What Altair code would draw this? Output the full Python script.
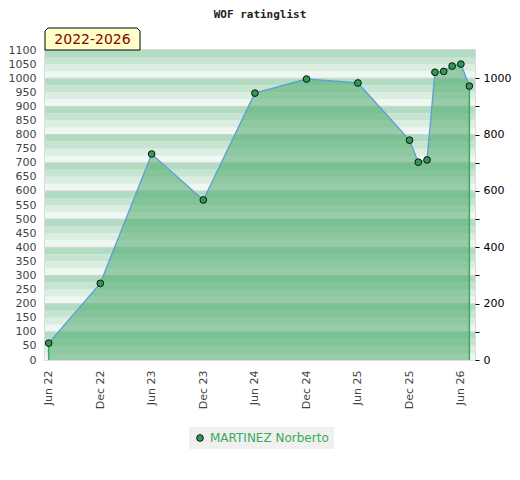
import altair as alt
import pandas as pd

# ---- data ----
dates = ["2022-06-01", "2022-12-01", "2023-06-01", "2023-12-01", "2024-06-01",
         "2024-12-01", "2025-06-01", "2025-12-01", "2026-01-01", "2026-02-01",
         "2026-03-01", "2026-04-01", "2026-05-01", "2026-06-01", "2026-07-01"]
ratings = [60, 272, 731, 568, 947, 997, 983, 780, 702, 710, 1021, 1024, 1043, 1050, 972]
player = "MARTINEZ Norberto"
title_text = "WOF ratinglist"
period_text = "2022-2026"
tick_dates = [(2022, 6), (2022, 12), (2023, 6), (2023, 12), (2024, 6),
              (2024, 12), (2025, 6), (2025, 12), (2026, 6)]

df = pd.DataFrame({"date": dates, "rating": ratings, "player": player})
df["edge"] = [i == 0 or i == len(df) - 1 for i in range(len(df))]

W, H = 430, 310
YMAX = 1100

# background stripes (decoration)
stripe_cols = ["#eff7f1", "#dcede2", "#c6e5d1", "#b1dcc1"]
stripes = pd.DataFrame({
    "lo": [v for v in range(0, YMAX, 25)],
    "hi": [v + 25 for v in range(0, YMAX, 25)],
    "c": [stripe_cols[(v % 100) // 25] for v in range(0, YMAX, 25)],
})
grid = pd.DataFrame({"v": list(range(100, YMAX, 100))})

yscale = alt.Scale(domain=[0, YMAX], nice=False)
xscale = alt.Scale(type="utc", domain=[alt.DateTime(year=2022, month=5, date=19, utc=True),
                                       alt.DateTime(year=2026, month=7, date=21, utc=True)])
xaxis = alt.Axis(values=[alt.DateTime(year=y, month=m, date=1, utc=True) for y, m in tick_dates],
                 format="%b %y", labelAngle=270, labelColor="#444444", labelFontSize=11,
                 labelFont="DejaVu Sans", ticks=False, domain=False, grid=False,
                 labelPadding=10, title=None)
yaxis_left = alt.Axis(values=list(range(0, YMAX + 1, 50)), format="d", labelColor="#444444",
                      labelFontSize=11, labelFont="DejaVu Sans", ticks=False, domain=False,
                      grid=False, labelPadding=9, title=None)
yaxis_right = alt.Axis(orient="right", values=list(range(0, YMAX, 100)), format="d",
                       labelExpr="datum.value % 200 == 0 ? datum.label : ''",
                       labelColor="#000000", labelFontSize=11, labelFont="DejaVu Sans",
                       ticks=True, tickSize=4, tickColor="#000000", domain=False, grid=False,
                       labelPadding=4, title=None)

bg = alt.Chart(stripes).mark_rect().encode(
    x=alt.value(0), x2=alt.value(W),
    y=alt.Y("lo:Q", scale=yscale, axis=yaxis_left), y2="hi:Q",
    color=alt.Color("c:N", scale=None),
)
gridlines = alt.Chart(grid).mark_rule(color="#d2d2d2", strokeWidth=1).encode(
    y=alt.Y("v:Q", scale=yscale, axis=yaxis_left)
)
base = alt.Chart(df)
area = base.mark_area(color="#4fa96c", opacity=0.55).encode(
    x=alt.X("date:T", scale=xscale, axis=xaxis),
    y=alt.Y("rating:Q", scale=yscale, axis=yaxis_left),
)
edges = base.transform_filter("datum.edge").mark_rule(color="#3aaa5c", strokeWidth=1.5).encode(
    x=alt.X("date:T", scale=xscale, axis=xaxis),
    y=alt.Y("rating:Q", scale=yscale, axis=yaxis_left),
    y2=alt.datum(0),
)
line = base.mark_line(color="#5a9fd8", strokeWidth=1.3).encode(
    x=alt.X("date:T", scale=xscale, axis=xaxis),
    y=alt.Y("rating:Q", scale=yscale, axis=yaxis_left),
)
points = base.mark_point(filled=True, size=45, stroke="#111111", strokeWidth=1, opacity=1).encode(
    x=alt.X("date:T", scale=xscale, axis=xaxis),
    y=alt.Y("rating:Q", scale=yscale, axis=yaxis_left),
    color=alt.Color("player:N", scale=alt.Scale(range=["#2e9a52"]),
                    legend=alt.Legend(orient="none", legendX=144, legendY=377, title=None,
                                      fillColor="#f0f0f0", padding=5, labelColor="#3aaa5c",
                                      labelFontSize=12, labelFont="DejaVu Sans",
                                      symbolType="circle", symbolSize=45,
                                      symbolStrokeColor="#111111", symbolStrokeWidth=1,
                                      symbolFillColor="#2e9a52")),
)

one = alt.InlineData(values=[{"k": 1}])
title = alt.Chart(one).mark_text(font="DejaVu Sans Mono", fontWeight="bold", fontSize=11,
                                 color="#222222", baseline="top").encode(
    x=alt.value(W / 2), y=alt.value(-41), text=alt.value(title_text))
badge_path = "M -1 0.2316 L -1 -0.168 L -0.937 -0.2316 L 0.937 -0.2316 L 1 -0.168 L 1 0.2316 Z"
badge = alt.Chart(one).mark_point(shape=badge_path, size=9025, filled=True, fill="#ffffc8",
                                  stroke="#000000", strokeWidth=1, opacity=1).encode(
    x=alt.value(47.5), y=alt.value(-11))
badge_text = alt.Chart(one).mark_text(font="DejaVu Sans", fontSize=14, color="#8b0000").encode(
    x=alt.value(47.5), y=alt.value(-10), text=alt.value(period_text))

main = alt.layer(bg, gridlines, area, edges, line, points, title, badge, badge_text)

right = base.mark_point(opacity=0).encode(
    x=alt.X("date:T", scale=xscale, axis=xaxis),
    y=alt.Y("rating:Q", scale=yscale, axis=yaxis_right),
)

chart = alt.layer(main, right).resolve_scale(y="independent").properties(
    width=W, height=H,
    autosize=alt.AutoSizeParams(type="none"),
    padding={"left": 37, "top": 42, "right": 37, "bottom": 100},
).configure_view(stroke="#dcdcdc", strokeWidth=2)

chart.save("out.html", embed_options={"renderer": "svg", "actions": False})
